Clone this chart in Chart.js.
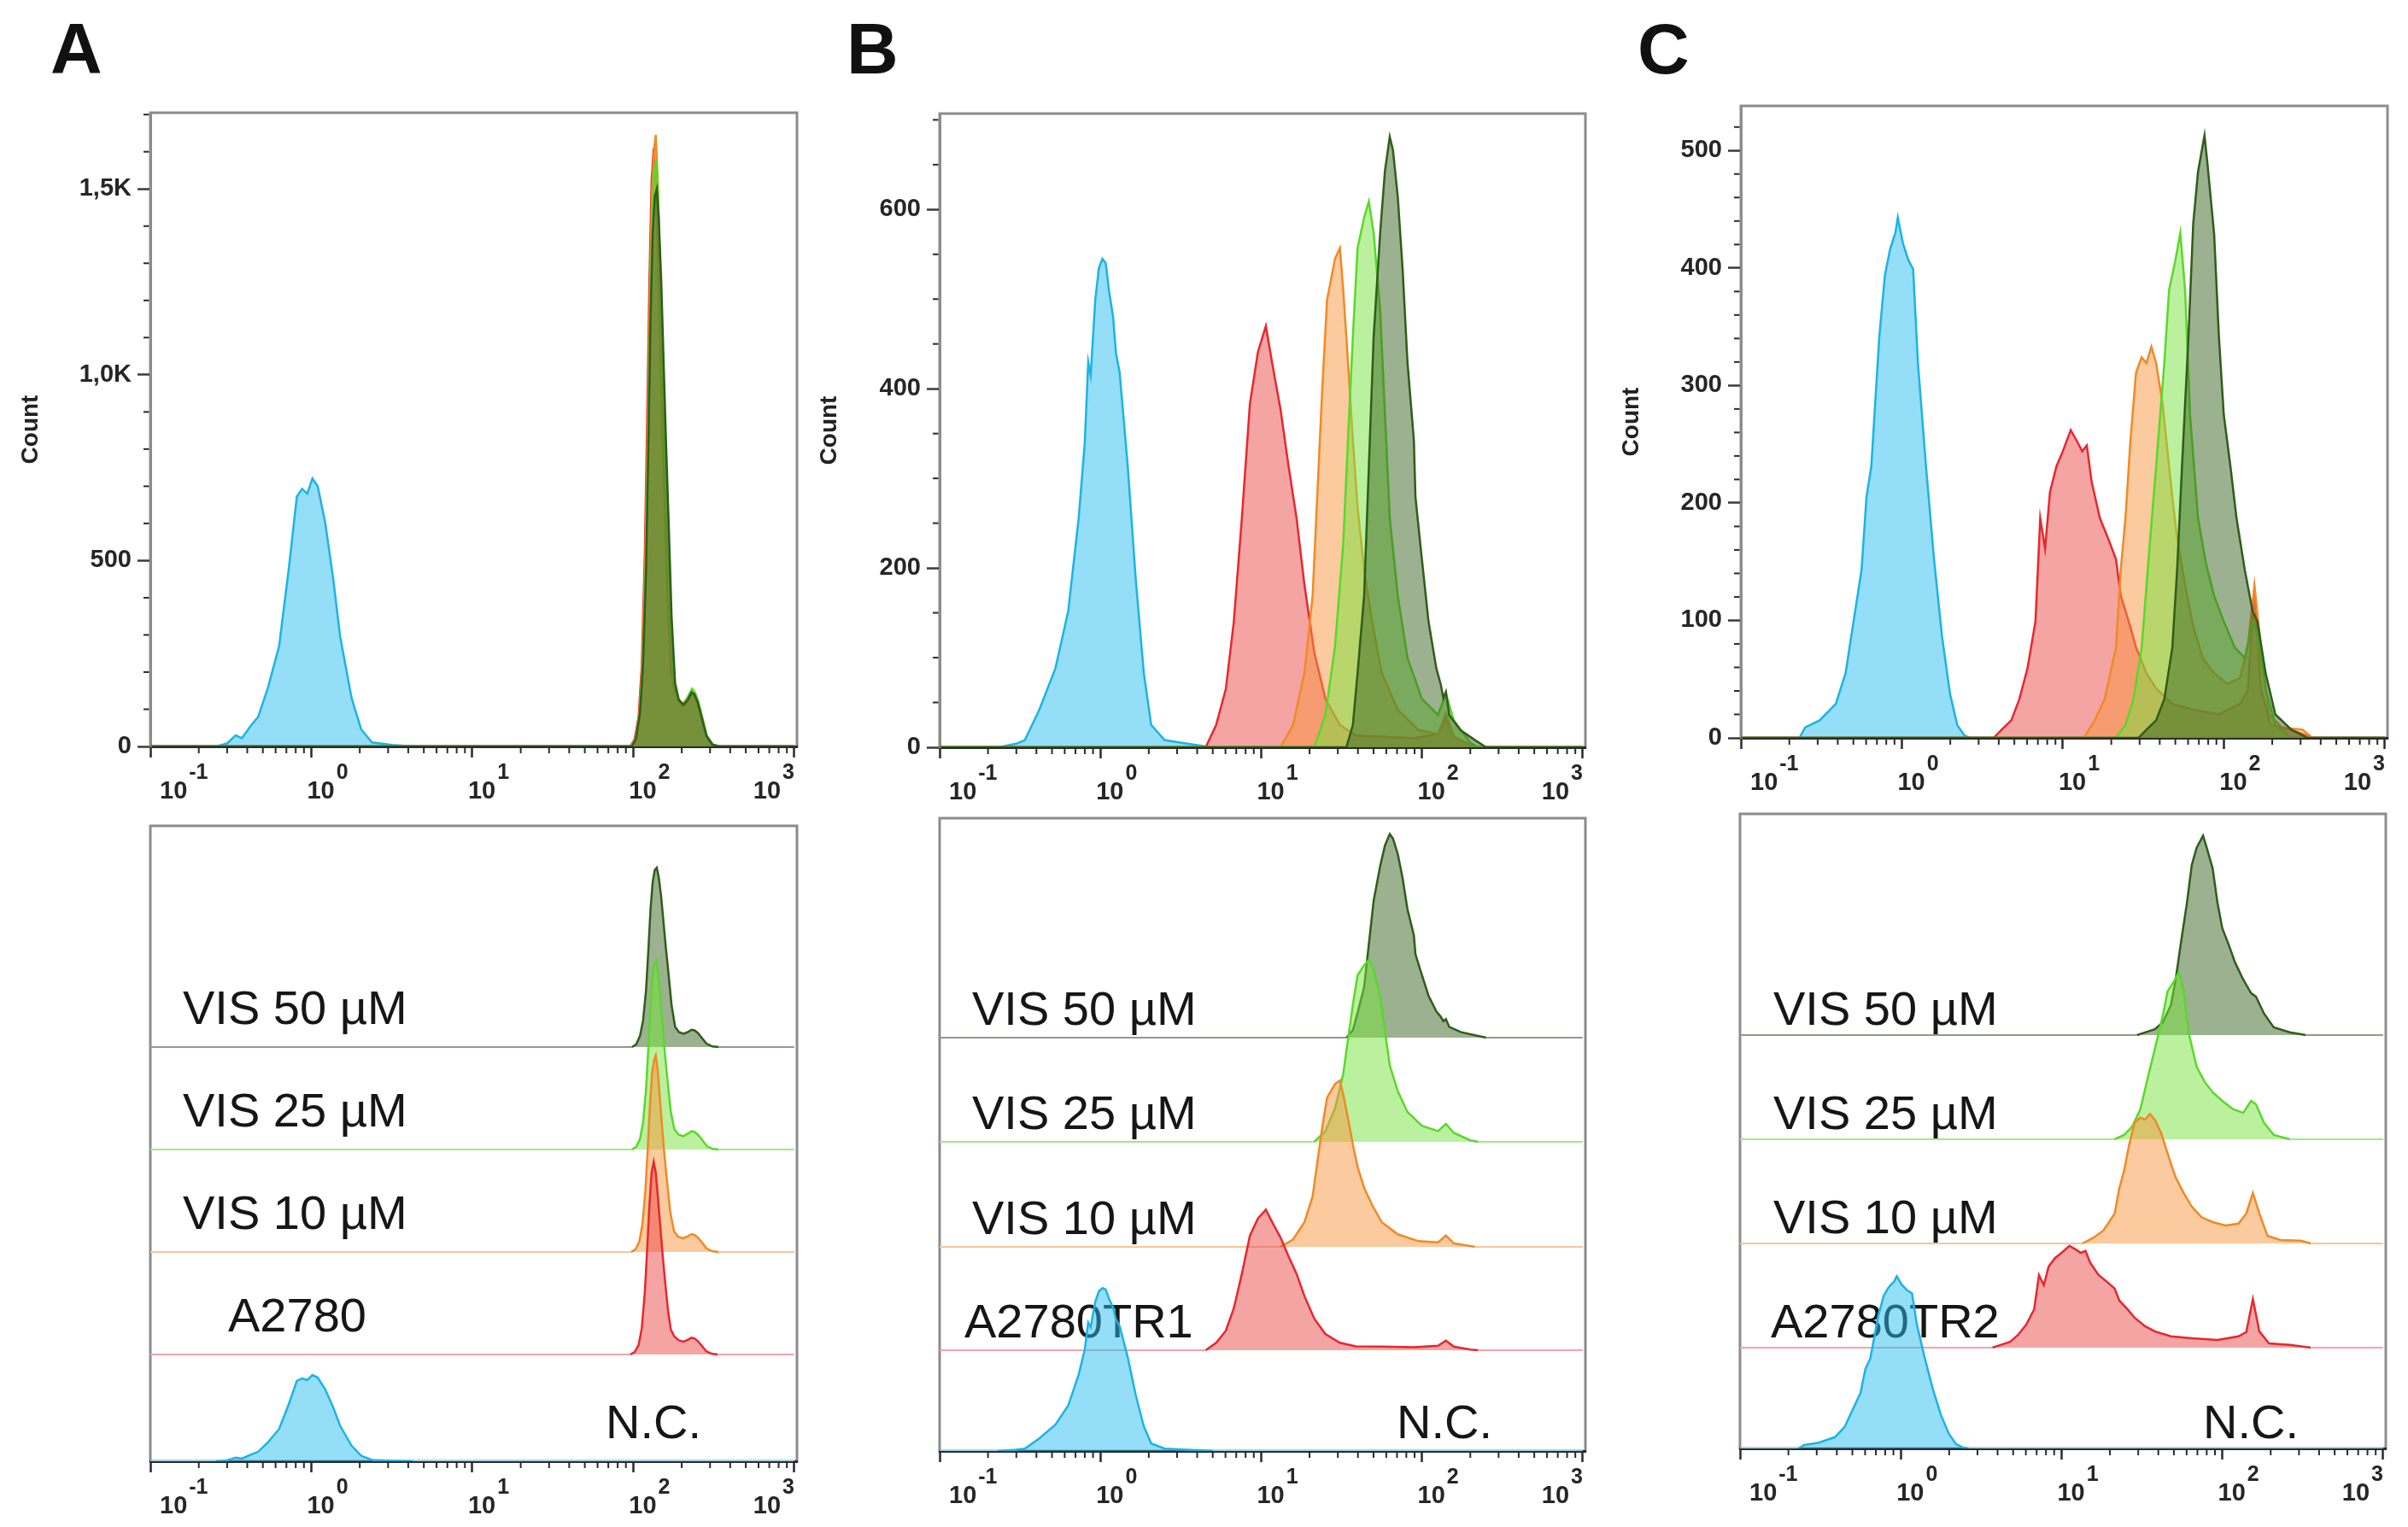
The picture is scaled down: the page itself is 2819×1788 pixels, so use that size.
<!DOCTYPE html>
<html>
<head>
<meta charset="utf-8">
<title>VIS uptake - flow cytometry histograms</title>
<script src="https://cdn.jsdelivr.net/npm/chart.js@4.4.1/dist/chart.umd.min.js"></script>
<style>
  html, body { margin: 0; padding: 0; background: #fff; }
  body { position: relative; width: 2819px; height: 1788px; overflow: hidden;
         font-family: "Liberation Sans", Arial, Helvetica, sans-serif; }
  canvas { position: absolute; }
  .letter { position: absolute; top: 15px; font-weight: bold; font-size: 84px; line-height: 84px; color: #111; }
</style>
</head>
<body>
<div class="letter" style="left:59px">A</div>
<div class="letter" style="left:991px">B</div>
<div class="letter" style="left:1917px">C</div>

<script>
// Histograms: [fluorescence intensity, cell count]

// Panel A - A2780
const A_NC = [[0.1,0],[0.257,0],[0.30,8],[0.339,30],[0.37,22],[0.42,55],[0.468,80],[0.537,157],[0.631,270],[0.724,477],[0.813,672],[0.877,693],[0.944,680],[1.016,721],[1.096,700],[1.22,602],[1.37,449],[1.51,296],[1.78,130],[2.04,46],[2.38,11],[3.16,4],[4.27,0],[1000,0]];
const A_PARENT = [[0.1,0],[96,0],[102,20],[108,80],[113,220],[118,520],[122,880],[126,1250],[130,1520],[134,1610],[138,1520],[142,1330],[147,1080],[152,840],[158,600],[164,380],[171,210],[180,150],[192,118],[205,108],[218,122],[230,140],[240,135],[252,112],[266,75],[285,25],[310,5],[335,0],[1000,0]];
const A_VIS10 = [[0.1,0],[97,0],[103,20],[109,85],[114,230],[119,520],[123,860],[127,1230],[131,1500],[135,1610],[138,1645],[142,1520],[147,1250],[152,1000],[157,780],[163,560],[170,330],[179,175],[190,128],[204,115],[218,132],[230,150],[241,142],[253,118],[267,80],[286,28],[312,5],[340,0],[1000,0]];
const A_VIS25 = [[0.1,0],[98,0],[104,20],[110,85],[115,225],[120,500],[124,840],[128,1200],[132,1450],[135,1540],[139,1580],[143,1470],[148,1230],[153,1000],[158,770],[164,550],[171,320],[180,170],[191,125],[205,112],[219,135],[232,155],[242,145],[254,120],[268,80],[287,28],[312,5],[340,0],[1000,0]];
const A_VIS50 = [[0.1,0],[98,0],[104,20],[110,90],[115,220],[120,470],[124,800],[128,1150],[132,1380],[136,1480],[140,1500],[144,1420],[149,1260],[154,1050],[160,810],[166,600],[173,350],[182,170],[192,125],[205,112],[218,125],[230,145],[240,140],[252,118],[266,78],[285,28],[310,5],[340,0],[1000,0]];

// Panel B - A2780TR1
const B_NC = [[0.1,0],[0.232,0],[0.30,4],[0.339,8],[0.417,42],[0.525,88],[0.631,152],[0.733,256],[0.80,340],[0.84,430],[0.87,415],[0.93,500],[0.98,535],[1.03,545],[1.08,540],[1.13,510],[1.20,480],[1.25,440],[1.318,418],[1.479,314],[1.66,187],[1.862,83],[2.07,25],[2.512,8],[3.2,5],[4.169,2],[5.01,0],[1000,0]];
const B_PARENT = [[0.1,0],[4.52,0],[5.25,25],[6.03,65],[6.76,140],[7.59,256],[8.51,383],[9.55,441],[10.7,470],[11.7,429],[13.2,377],[14.8,314],[16.6,256],[18.6,181],[21.4,106],[25.1,54],[30.9,25],[38.9,13],[56,12],[89,10],[126,15],[141,32],[158,12],[200,2],[224,0],[1000,0]];
const B_VIS10 = [[0.1,0],[13.2,0],[15.8,25],[18.6,83],[20.9,169],[22.4,285],[24.0,400],[25.7,499],[28.8,545],[30.9,557],[32.4,510],[34.7,430],[37.2,343],[39.8,268],[43.7,198],[49,140],[56.2,83],[70.8,42],[95.5,19],[126,15],[141,38],[158,12],[214,0],[1000,0]];
const B_VIS25 = [[0.1,0],[21.4,0],[25.1,36],[28.8,112],[32.4,227],[34.7,343],[37.2,458],[39.8,557],[43.7,591],[46.8,609],[50.1,574],[55,487],[58.9,372],[63.1,256],[70.8,169],[81.3,100],[100,54],[126,36],[141,60],[158,30],[200,5],[224,0],[1000,0]];
const B_VIS50 = [[0.1,0],[33.9,0],[37.2,25],[39.8,83],[43.7,169],[46.8,314],[50.1,458],[55,574],[58.9,643],[63.1,681],[66.1,666],[70.8,614],[75.9,533],[81.3,430],[89.1,343],[91.2,279],[97.7,227],[110,140],[123,88],[131,70],[136,55],[141,62],[148,36],[174,19],[214,8],[251,0],[1000,0]];

// Panel C - A2780TR2
const C_NC = [[0.1,0],[0.231,0],[0.251,9],[0.309,15],[0.389,29],[0.447,55],[0.501,99],[0.562,143],[0.603,205],[0.646,231],[0.724,341],[0.785,394],[0.845,416],[0.912,430],[0.944,443],[1.016,421],[1.096,407],[1.175,399],[1.259,319],[1.413,231],[1.585,152],[1.778,86],[1.995,37],[2.21,11],[2.45,2],[2.63,0],[1000,0]];
const C_PARENT = [[0.1,0],[3.72,0],[4.17,7],[4.79,15],[5.37,33],[6.03,59],[6.76,99],[7.24,187],[7.76,161],[8.32,209],[9.12,231],[10,244],[11.2,262],[12.2,253],[13.2,244],[14.1,249],[15.1,218],[17.0,187],[19.1,170],[21.4,152],[22.9,121],[25.7,99],[28.5,77],[33.1,55],[38,42],[47.9,29],[64.6,24],[93.3,20],[126,29],[141,40],[155,125],[170,42],[195,11],[263,7],[355,0],[1000,0]];
const C_VIS10 = [[0.1,0],[13.5,0],[15.8,15],[18.2,33],[21.4,77],[22.9,143],[24.5,187],[26.3,253],[28.5,311],[30.9,324],[33.1,319],[35.5,333],[38,319],[41.7,284],[44.7,244],[47.9,205],[51.3,170],[57.5,130],[64.6,95],[74.1,68],[87.1,55],[105,46],[126,51],[141,77],[155,130],[170,77],[191,20],[229,9],[309,7],[355,0],[1000,0]];
const C_VIS25 = [[0.1,0],[21.4,0],[24.5,11],[27.5,33],[30.9,77],[34.7,165],[38,231],[42.7,319],[45.7,381],[50.1,407],[53.7,430],[57.5,381],[61.7,275],[69.2,187],[77.6,148],[87.1,121],[100,99],[117,77],[135,68],[151,99],[162,90],[182,42],[209,11],[263,0],[1000,0]];
const C_VIS50 = [[0.1,0],[29.5,0],[33.1,7],[38,15],[42.7,33],[47.9,77],[51.3,143],[55,231],[60.3,341],[64.6,438],[69.2,482],[75.9,513],[79.4,487],[87.1,429],[93.3,341],[100,275],[110,231],[120,187],[135,143],[151,108],[162,99],[182,55],[209,20],[263,7],[331,0],[1000,0]];

// axis ticks
const X_TICKS = [0.1, 1, 10, 100, 1000];
const X_EXPONENTS = ['-1', '0', '1', '2', '3'];
const A_Y_TICKS = [0, 500, 1000, 1500];
const A_Y_LABELS = ['0', '500', '1,0K', '1,5K'];
const B_Y_TICKS = [0, 200, 400, 600];
const B_Y_LABELS = ['0', '200', '400', '600'];
const C_Y_TICKS = [0, 100, 200, 300, 400, 500];
const C_Y_LABELS = ['0', '100', '200', '300', '400', '500'];

// row labels of the offset plots, top to bottom
const ROWS_A = ['VIS 50 µM', 'VIS 25 µM', 'VIS 10 µM', 'A2780', 'N.C.'];
const ROWS_B = ['VIS 50 µM', 'VIS 25 µM', 'VIS 10 µM', 'A2780TR1', 'N.C.'];
const ROWS_C = ['VIS 50 µM', 'VIS 25 µM', 'VIS 10 µM', 'A2780TR2', 'N.C.'];

const FONT = '"Liberation Sans", Arial, Helvetica, sans-serif';
Chart.defaults.font.family = FONT;

const X_MIN = 0.1, X_MAX = 1040;

// same order as the rows: top row first
const STYLE = [
  { line: '#2f5d1b', fill: 'rgba(58,100,32,0.5)',  base: '#8e9c86' },  // VIS 50
  { line: '#5ad82b', fill: 'rgba(120,228,62,0.5)', base: '#a6e68a' },  // VIS 25
  { line: '#f08a26', fill: 'rgba(247,150,62,0.5)', base: '#f7c59a' },  // VIS 10
  { line: '#e6282e', fill: 'rgba(236,74,74,0.5)',  base: '#f1a3aa' },  // parental line
  { line: '#1db3e4', fill: 'rgba(42,190,240,0.5)', base: '#92d9f0' }   // N.C.
];

const PANELS = [
  { series: [A_VIS50, A_VIS25, A_VIS10, A_PARENT, A_NC],
    top: { box: [176, 132, 933, 874], titleX: 36, yMax: 1705, ticks: A_Y_TICKS, labels: A_Y_LABELS, minor: 100 },
    stack: { box: [176, 967, 933, 1711], pxPerCount: 0.14, base: [485, 365, 245, 125, 0],
             rows: ROWS_A, dx: [38, 38, 38, 91, 533], dy: 27 } },
  { series: [B_VIS50, B_VIS25, B_VIS10, B_PARENT, B_NC],
    top: { box: [1100, 133, 1856, 875], titleX: 971, yMax: 707, ticks: B_Y_TICKS, labels: B_Y_LABELS, minor: 50 },
    stack: { box: [1100, 958, 1856, 1699], pxPerCount: 0.35, base: [484, 362, 239, 118, 0],
             rows: ROWS_B, dx: [38, 38, 38, 29, 535], dy: 15 } },
  { series: [C_VIS50, C_VIS25, C_VIS10, C_PARENT, C_NC],
    top: { box: [2038, 124, 2795, 864], titleX: 1910, yMax: 538, ticks: C_Y_TICKS, labels: C_Y_LABELS, minor: 20 },
    stack: { box: [2037, 953, 2793, 1696], pxPerCount: 0.455, base: [484, 362, 240, 118, 0],
             rows: ROWS_C, dx: [39, 39, 39, 36, 542], dy: 12 } }
];

function makeCanvas(left, top, w, h) {
  const c = document.createElement('canvas');
  c.width = w; c.height = h;
  c.style.left = left + 'px'; c.style.top = top + 'px';
  c.style.width = w + 'px'; c.style.height = h + 'px';
  document.body.appendChild(c);
  return c;
}

// grey box round the plot area
const framePlugin = {
  id: 'frame',
  beforeDraw(chart) {
    const { ctx, chartArea: a } = chart;
    ctx.save();
    ctx.strokeStyle = '#8c8c8c';
    ctx.lineWidth = 3;
    ctx.strokeRect(a.left, a.top, a.right - a.left, a.bottom - a.top);
    ctx.restore();
  }
};

// minor log ticks, minor count ticks and the 10^n labels
function logAxisPlugin(yCfg) {
  return {
    id: 'logAxis',
    afterDraw(chart) {
      const { ctx, chartArea: a } = chart;
      const x = chart.scales.x;
      ctx.save();
      ctx.strokeStyle = '#2a2a2a';
      ctx.lineWidth = 2;
      X_TICKS.slice(0, -1).forEach(d => {
        for (let k = 2; k <= 9; k++) {
          const px = x.getPixelForValue(d * k);
          ctx.beginPath(); ctx.moveTo(px, a.bottom + 1.5); ctx.lineTo(px, a.bottom + 8); ctx.stroke();
        }
      });
      if (yCfg) {
        const y = chart.scales.y;
        for (let v = yCfg.minor; v <= y.max; v += yCfg.minor) {
          if (yCfg.ticks.includes(v)) continue;
          const py = y.getPixelForValue(v);
          ctx.beginPath(); ctx.moveTo(a.left - 8, py); ctx.lineTo(a.left - 1.5, py); ctx.stroke();
        }
      }
      ctx.fillStyle = '#262626';
      ctx.textAlign = 'left';
      ctx.textBaseline = 'alphabetic';
      X_TICKS.forEach((v, i) => {
        const px = x.getPixelForValue(v);
        ctx.font = 'bold 29px ' + FONT;
        const w1 = ctx.measureText('10').width;
        ctx.font = 'bold 25px ' + FONT;
        const w2 = ctx.measureText(X_EXPONENTS[i]).width;
        let x0 = i === 0 ? px + 11 : px - 5;
        if (x0 + w1 + 2 + w2 > a.right - 3) x0 = a.right - 3 - w1 - 2 - w2;
        ctx.font = 'bold 29px ' + FONT;
        ctx.fillText('10', x0, a.bottom + 61);
        ctx.font = 'bold 25px ' + FONT;
        ctx.fillText(X_EXPONENTS[i], x0 + w1 + 2, a.bottom + 38);
      });
      ctx.restore();
    }
  };
}

function rowLabelPlugin(s) {
  return {
    id: 'rowLabels',
    beforeDatasetsDraw(chart) {
      const { ctx, chartArea: a } = chart;
      ctx.save();
      ctx.font = '56px ' + FONT;
      ctx.fillStyle = '#161616';
      ctx.textAlign = 'left';
      ctx.textBaseline = 'alphabetic';
      s.rows.forEach((t, i) => {
        const y = chart.scales['y' + i].getPixelForValue(0) - s.dy;
        ctx.fillText(t, a.left + s.dx[i], y);
      });
      ctx.restore();
    }
  };
}

function xAxis(h) {
  return {
    type: 'logarithmic', axis: 'x', position: 'bottom', min: X_MIN, max: X_MAX,
    afterBuildTicks: s => { s.ticks = X_TICKS.map(v => ({ value: v, major: true })); },
    afterFit: s => { s.height = h; },
    ticks: { display: false, autoSkip: false },
    grid: { drawOnChartArea: false, tickLength: 13, tickWidth: 2.5, tickColor: '#2a2a2a' },
    border: { color: '#2a2a2a', width: 3 }
  };
}

const baseOptions = {
  responsive: false,
  animation: false,
  events: [],
  plugins: { legend: { display: false }, tooltip: { enabled: false } }
};

// overlaid histograms
function drawTop(p) {
  const cfg = p.top;
  const [l, t, r, b] = cfg.box;
  const axisLeft = cfg.titleX - 17;
  const padTop = 30, padRight = 12, axisH = 80;
  const canvas = makeCanvas(axisLeft, t - padTop, r + padRight - axisLeft, b + axisH - (t - padTop));

  const datasets = STYLE.map((st, i) => ({
    data: p.series[i],
    borderColor: st.line,
    backgroundColor: st.fill,
    borderWidth: 2.5,
    fill: 'origin',
    pointRadius: 0,
    tension: 0,
    order: i
  }));

  new Chart(canvas, {
    type: 'line',
    data: { datasets },
    options: Object.assign({}, baseOptions, {
      layout: { padding: { top: padTop, right: padRight, left: 0, bottom: 0 } },
      scales: {
        x: xAxis(axisH),
        y: {
          type: 'linear', axis: 'y', position: 'left', min: 0, max: cfg.yMax,
          afterBuildTicks: s => { s.ticks = cfg.ticks.map(v => ({ value: v })); },
          afterFit: s => { s.width = l - axisLeft; },
          ticks: {
            autoSkip: false, padding: 7, color: '#262626',
            font: { size: 29, weight: 'bold' },
            callback: v => cfg.labels[cfg.ticks.indexOf(v)]
          },
          grid: { drawOnChartArea: false, tickLength: 15, tickWidth: 2.5, tickColor: '#3a3a3a' },
          border: { color: '#8c8c8c', width: 3 },
          title: { display: true, text: 'Count', color: '#222', font: { size: 28, weight: 'bold' }, padding: 0 }
        }
      }
    }),
    plugins: [framePlugin, logAxisPlugin(cfg)]
  });
}

// offset histograms, one row (own y scale) per sample
function drawStack(p) {
  const s = p.stack;
  const [l, t, r, b] = s.box;
  const pad = 12, padTop = 30, axisH = 80;
  const canvas = makeCanvas(l - pad, t - padTop, r - l + 2 * pad, b + axisH - (t - padTop));
  const H = b - t;

  const scales = { x: xAxis(axisH) };
  STYLE.forEach((st, i) => {
    scales['y' + i] = {
      type: 'linear', axis: 'y', position: 'left', display: false,
      min: -s.base[i] / s.pxPerCount,
      max: (H - s.base[i]) / s.pxPerCount
    };
  });

  const flat = c => c.p0.parsed.y === 0 && c.p1.parsed.y === 0;
  const datasets = STYLE.map((st, i) => ({
    data: p.series[i],
    xAxisID: 'x',
    yAxisID: 'y' + i,
    borderColor: st.line,
    backgroundColor: st.fill,
    borderWidth: 2.5,
    fill: 'origin',
    pointRadius: 0,
    tension: 0,
    order: STYLE.length - 1 - i,
    segment: {
      borderColor: c => flat(c) ? st.base : undefined,
      borderWidth: c => flat(c) ? 2 : undefined
    }
  }));

  new Chart(canvas, {
    type: 'line',
    data: { datasets },
    options: Object.assign({}, baseOptions, {
      layout: { padding: { top: padTop, right: pad, left: pad, bottom: 0 } },
      scales
    }),
    plugins: [framePlugin, logAxisPlugin(null), rowLabelPlugin(s)]
  });
}

PANELS.forEach(p => { drawTop(p); drawStack(p); });
</script>
</body>
</html>
